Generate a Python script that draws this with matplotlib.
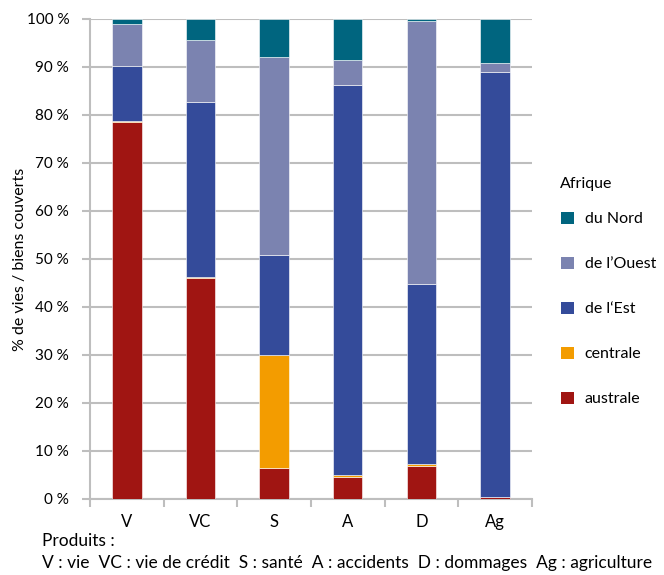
import numpy as np
import matplotlib.pyplot as plt
from matplotlib.patches import Patch

plt.rcParams['font.family'] = ['Lato', 'DejaVu Sans']

produits = ['V', 'VC', 'S', 'A', 'D', 'Ag']
regions = ['australe', 'centrale', 'de l\u2018Est', 'de l\u2019Ouest', 'du Nord']
couleurs = ['#A01512', '#F39C00', '#344B9A', '#7B83B0', '#00657F']

australe = [78.5, 46.0, 6.5, 4.65, 6.9, 0.4]
centrale = [0.3, 0.3, 23.6, 0.35, 0.4, 0.0]
est = [11.4, 36.3, 20.8, 81.25, 37.4, 88.5]
ouest = [8.8, 13.0, 41.1, 5.25, 54.9, 1.9]
nord = [1.0, 4.4, 8.0, 8.5, 0.4, 9.2]
series = [australe, centrale, est, ouest, nord]

fig = plt.figure(figsize=(6.64, 5.75), dpi=100)
ax = fig.add_axes([0.1355, 0.1322, 0.6655, 0.8348])

x = np.arange(len(produits))
bas = np.zeros(len(produits))
for vals, c in zip(series, couleurs):
    ax.bar(x, vals, bottom=bas, width=0.4, color=c, edgecolor='white',
           linewidth=0.4, zorder=3)
    bas += np.array(vals)

ax.set_xlim(-0.5, len(produits) - 0.5)
ax.set_ylim(0, 100)
ax.set_yticks(np.arange(0, 101, 10))
ax.set_yticklabels([f'{v} %' for v in range(0, 101, 10)])
ax.yaxis.grid(True, color='#BEBEBE', linewidth=1.5, zorder=0)
ax.set_axisbelow(True)

ax.set_xticks(np.arange(-0.5, len(produits), 1.0))
ax.set_xticklabels([])
ax.set_xticks(x, minor=True)
ax.set_xticklabels(produits, minor=True)
ax.tick_params(axis='x', which='minor', length=0, pad=11, labelsize=12)
ax.tick_params(axis='x', which='major', length=6, color='#BEBEBE', width=1.5)
ax.tick_params(axis='y', length=6, color='#BEBEBE', width=1.5, labelsize=11,
               pad=9)

for s in ['top', 'right']:
    ax.spines[s].set_visible(False)
for s in ['left', 'bottom']:
    ax.spines[s].set_color('#BEBEBE')
    ax.spines[s].set_linewidth(1.5)

ax.set_ylabel('% de vies / biens couverts', fontsize=11.5, labelpad=0)

handles = [Patch(facecolor=c, edgecolor='none') for c in couleurs][::-1]
leg = fig.legend(handles, regions[::-1], loc='upper left',
                 bbox_to_anchor=(0.8325, 0.646), frameon=False, fontsize=11.5,
                 handlelength=0.8, handleheight=0.8, borderpad=0,
                 labelspacing=1.9, handletextpad=0.7)
fig.text(0.843, 1 - 184 / 575, 'Afrique', fontsize=11.5, va='center')

fig.text(0.063, 0.059, 'Produits :', fontsize=12.5, va='center')
fig.text(0.063, 0.021,
         'V : vie  VC : vie de crédit  S : santé  A : accidents  D : dommages  Ag : agriculture',
         fontsize=12.5, va='center')

fig.savefig('out.png', dpi=100)
